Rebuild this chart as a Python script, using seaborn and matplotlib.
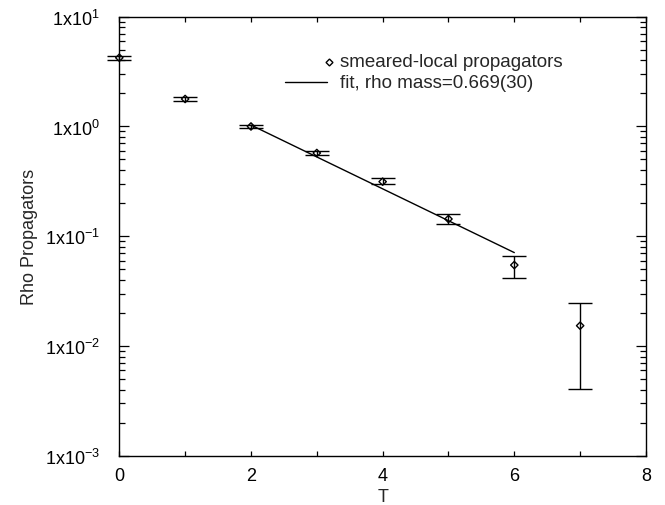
import numpy as np
import pandas as pd
import matplotlib
matplotlib.use("Agg")
import matplotlib.pyplot as plt
from matplotlib.ticker import FixedLocator, LogLocator, FuncFormatter, NullFormatter
import seaborn as sns

# Rho propagator (smeared-local) vs. time slice
t_vals = [0, 1, 2, 3, 4, 5, 6, 7]
prop_vals = [4.23, 1.78, 1.00, 0.573, 0.314, 0.1435, 0.0546, 0.0153]
prop_hi = [4.42, 1.86, 1.04, 0.60, 0.339, 0.158, 0.0665, 0.0246]
prop_lo = [4.05, 1.71, 0.97, 0.55, 0.301, 0.129, 0.0419, 0.00405]

# Single-exponential fit over t = 2..6
fit_t = [2.0, 6.0]
fit_amp = 1.03
fit_mass = 0.669

legend_point = "smeared-local propagators"
legend_fit = "fit, rho mass=0.669(30)"

sns.set_style("ticks")
plt.rcParams["font.family"] = ["Liberation Sans", "DejaVu Sans"]
plt.rcParams["mathtext.fontset"] = "custom"
plt.rcParams["mathtext.rm"] = "Liberation Sans"
plt.rcParams["mathtext.it"] = "Liberation Sans"

fig = plt.figure(figsize=(6.65, 5.06), dpi=100)
ax = fig.add_axes([0.1794, 0.0974, 0.7920, 0.8676])

df = pd.DataFrame({"T": t_vals, "prop": prop_vals})
err = np.array([np.array(prop_vals) - np.array(prop_lo),
                np.array(prop_hi) - np.array(prop_vals)])

ax.errorbar(df["T"], df["prop"], yerr=err, fmt="none", ecolor="black",
            elinewidth=1.0, capsize=8.6, capthick=1.0, zorder=2, clip_on=False)
sns.scatterplot(data=df, x="T", y="prop", marker="D", s=14,
                facecolor="none", edgecolor="black", linewidth=1.0,
                ax=ax, zorder=3, legend=False, clip_on=False)

fit_df = pd.DataFrame({"T": fit_t})
fit_df["fit"] = fit_amp * np.exp(-fit_mass * (fit_df["T"] - fit_t[0]))
sns.lineplot(data=fit_df, x="T", y="fit", color="black", linewidth=1.0,
             ax=ax, zorder=2)

ax.set_yscale("log")
ax.set_xlim(0, 8)
ax.set_ylim(1e-3, 1e1)

ax.xaxis.set_major_locator(FixedLocator([0, 2, 4, 6, 8]))
ax.xaxis.set_minor_locator(FixedLocator([1, 3, 5, 7]))
ax.yaxis.set_major_locator(LogLocator(base=10, numticks=10))
ax.yaxis.set_minor_locator(LogLocator(base=10, subs=np.arange(2, 10), numticks=20))
ax.yaxis.set_minor_formatter(NullFormatter())
ax.yaxis.set_major_formatter(FuncFormatter(
    lambda v, p: r"1x10$^{%d}$" % int(round(np.log10(v)))))

ax.tick_params(axis="both", which="both", direction="in", top=True, right=True,
               colors="black", labelsize=13, width=0.9)
ax.tick_params(axis="y", which="major", length=7, pad=14)
ax.tick_params(axis="y", which="minor", length=4)
ax.tick_params(axis="x", which="both", length=3.5, pad=8)

for s in ax.spines.values():
    s.set_linewidth(1.0)
    s.set_color("black")

ax.set_xlabel("T", fontsize=13, labelpad=3)
ax.set_ylabel("Rho Propagators", fontsize=13, labelpad=5)

# Key, drawn in axes coordinates
ax.plot([0.398], [0.8975], marker="D", markersize=3.5, markerfacecolor="none",
        markeredgecolor="black", markeredgewidth=1.0, transform=ax.transAxes,
        clip_on=False)
ax.text(0.419, 0.8975, legend_point, transform=ax.transAxes, fontsize=13.5,
        va="center", ha="left")
ax.plot([0.3146, 0.394], [0.8506, 0.8506], color="black", linewidth=1.0,
        transform=ax.transAxes)
ax.text(0.419, 0.8506, legend_fit, transform=ax.transAxes, fontsize=13.5,
        va="center", ha="left")

fig.savefig("out.png", dpi=100)
